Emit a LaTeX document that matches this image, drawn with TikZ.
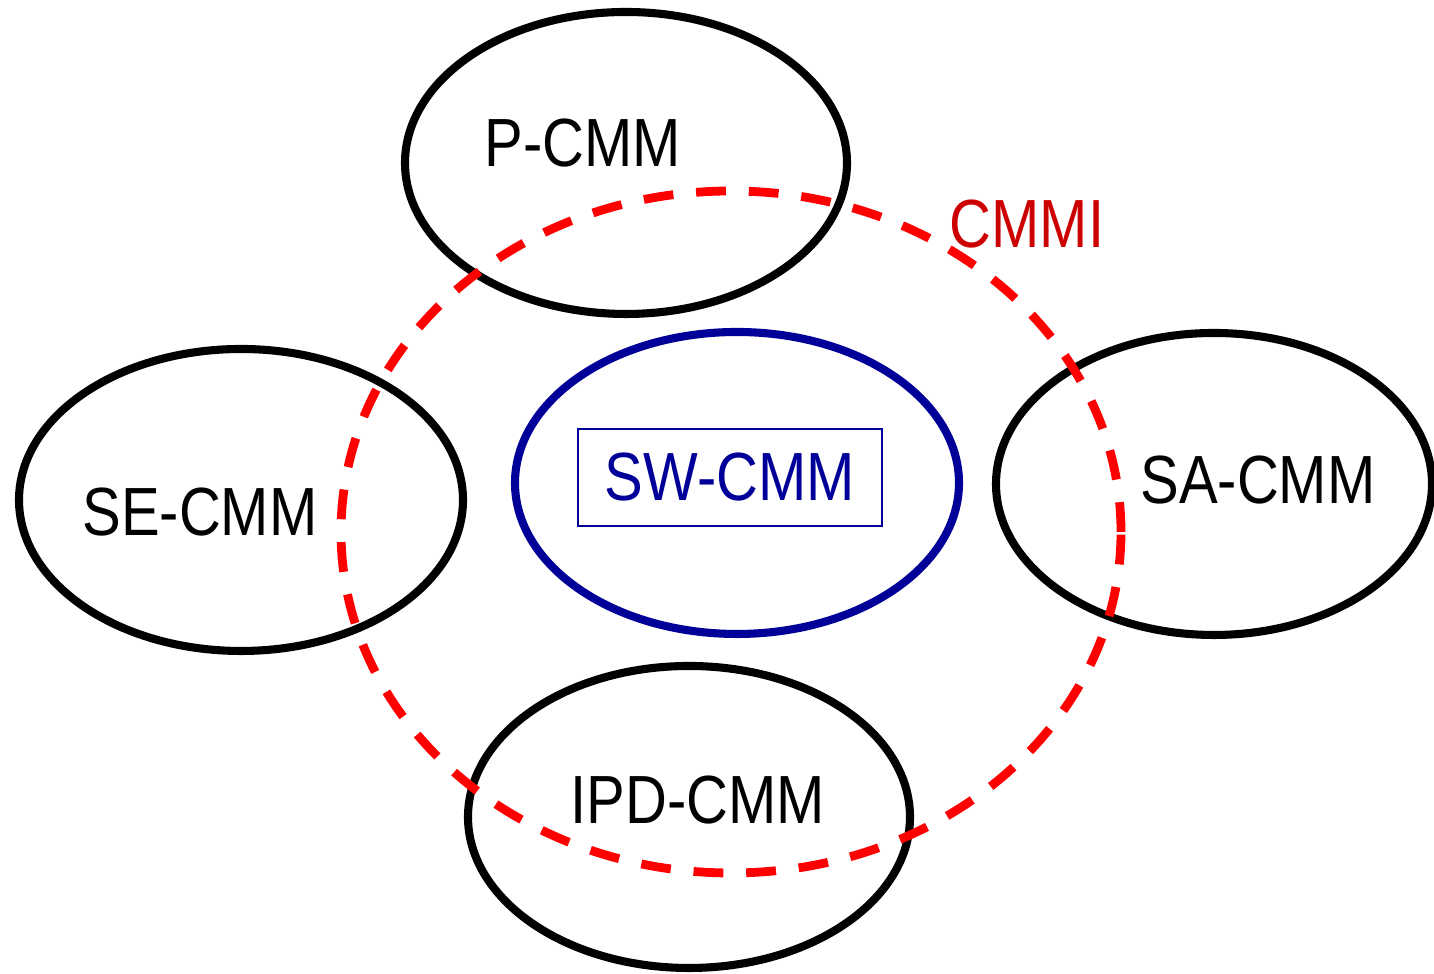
\documentclass[tikz,border=0pt]{standalone}
\usepackage{fontspec}
\usepackage{tikz}
\newfontfamily\cmmfont[FakeStretch=0.85]{Liberation Sans}
\definecolor{cmmired}{RGB}{204,0,0}
\definecolor{swblue}{RGB}{0,0,153}
\def\pellipse{(6.26,8.11) ellipse (2.21 and 1.51)}
\def\seellipse{(2.41,4.74) ellipse (2.22 and 1.51)}
\def\swellipse{(7.37,4.91) ellipse (2.22 and 1.51)}
\def\saellipse{(12.14,4.90) ellipse (2.18 and 1.51)}
\def\ipdellipse{(6.89,1.57) ellipse (2.21 and 1.51)}
\def\cmmiellipse{(7.31,4.42) ellipse (3.90 and 3.41)}

\begin{document}
\begin{tikzpicture}[font=\cmmfont\fontsize{19.4}{23}\selectfont]
				\useasboundingbox (0,0) rectangle (14.34,9.74);
				
				%the single models
				\draw [line width=2.3pt] \pellipse;
				\draw [line width=2.3pt] \seellipse;
				\draw [line width=2.3pt] \saellipse;
				\draw [line width=2.3pt] \ipdellipse;
				\draw [swblue, line width=2.3pt] \swellipse;
				
				%integrated model on top
				\draw [red, line width=2.5pt, dash pattern=on 8.5pt off 6.5pt] \cmmiellipse;
				
				\node (p) at (5.83,8.31) {P-CMM};
				\node (se) at (2.00,4.62) {SE-CMM};
				\node (sa) at (12.58,4.94) {SA-CMM};
				\node (ipd) at (6.98,1.74) {IPD-CMM};
				\node (cmmi) [text=cmmired] at (10.27,7.50) {CMMI};
				\node (sw) [draw=swblue, text=swblue, line width=0.4pt, minimum width=3.04cm, minimum height=0.97cm] at (7.30,4.965) {SW-CMM};
			\end{tikzpicture}
\end{document}
